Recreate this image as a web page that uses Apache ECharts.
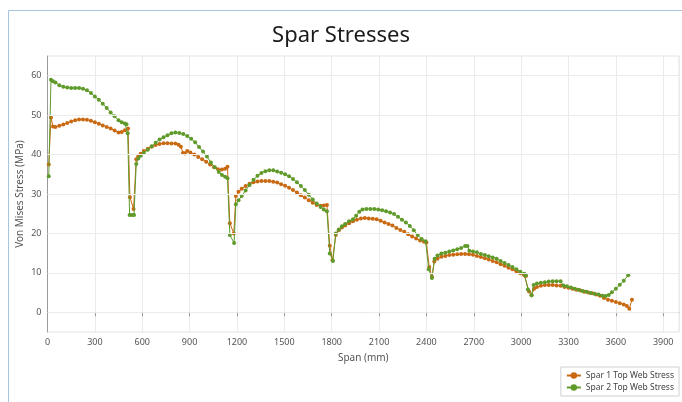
<!DOCTYPE html>
<html>
<head>
<meta charset="utf-8">
<script src="https://cdn.jsdelivr.net/npm/echarts@6/dist/echarts.min.js"></script>
<style>html,body{margin:0;padding:0;background:#fff}#chart{width:682px;height:402px}</style>
</head>
<body>
<div id="chart"></div>
<script>
const chartTitle = 'Spar Stresses';
const seriesNames = ['Spar 1 Top Web Stress', 'Spar 2 Top Web Stress'];
const xTicks = [0, 300, 600, 900, 1200, 1500, 1800, 2100, 2400, 2700, 3000, 3300, 3600, 3900];
const yTicks = [0, 10, 20, 30, 40, 50, 60];

const spar1Span = [8,22,35,50,75,100,125,150,175,200,225,250,275,300,325,350,375,400,425,450,470,490,510,
  522,545,562,575,590,610,635,660,685,710,735,760,785,810,830,845,858,870,885,905,930,955,980,1005,1030,1055,1080,1105,1125,1140,
  1155,1180,1193,1210,1230,1255,1280,1305,1330,1355,1380,1405,1430,1455,1480,1505,1530,1555,1580,1605,1630,1655,1680,1705,1730,1750,1770,
  1788,1805,1826,1845,1865,1885,1910,1935,1960,1985,2010,2035,2060,2085,2110,2135,2160,2185,2210,2235,2260,2285,2310,2335,2360,2385,2400,
  2418,2435,2450,2470,2495,2520,2545,2570,2595,2620,2645,2670,2695,2720,2745,2770,2795,2820,2845,2870,2895,2920,2945,2970,2995,3020,3030,
  3050,3066,3082,3100,3125,3150,3175,3200,3225,3250,3275,3300,3325,3350,3375,3400,3425,3450,3475,3500,3525,3550,3575,3600,3625,3650,3670,3685,3702];
const spar1Stress = [37.5,49.4,47.1,47.0,47.3,47.6,48.0,48.4,48.7,48.9,48.9,48.8,48.6,48.2,47.8,47.4,47.0,46.6,46.1,45.6,45.7,46.2,46.6,
  29.2,26.2,38.8,39.6,40.2,40.9,41.5,42.0,42.4,42.7,42.9,42.9,42.8,42.8,42.5,42.0,40.4,40.3,40.9,40.5,40.0,39.4,38.8,38.2,37.5,36.8,36.3,36.2,36.4,36.9,
  22.6,20.0,29.5,30.6,31.3,32.0,32.6,33.0,33.2,33.3,33.3,33.3,33.1,32.9,32.5,32.1,31.6,31.0,30.4,29.7,29.1,28.4,27.8,27.2,27.0,27.1,27.2,
  16.9,13.2,19.6,20.8,21.5,22.0,22.6,23.1,23.5,23.8,23.9,23.8,23.7,23.6,23.2,22.8,22.4,22.0,21.4,20.9,20.4,19.8,19.2,18.7,18.2,17.9,17.7,
  11.5,9.0,12.9,13.6,14.1,14.3,14.5,14.6,14.7,14.8,14.8,14.7,14.6,14.3,14.0,13.7,13.4,13.0,12.7,12.2,11.8,11.3,10.9,10.4,9.9,9.4,9.2,
  5.3,4.3,6.0,6.4,6.7,6.9,6.9,6.9,6.8,6.7,6.4,6.2,6.0,5.7,5.5,5.2,5.0,4.8,4.5,4.2,3.6,3.2,2.9,2.6,2.3,2.0,1.6,0.9,3.2];

const spar2Span = [8,22,35,50,75,100,125,150,175,200,225,250,275,300,325,350,375,400,425,450,470,490,500,508,
  520,535,548,562,575,590,610,635,660,685,710,735,760,785,810,835,860,885,910,935,960,985,1010,1035,1060,1085,1105,1125,1140,
  1155,1182,1193,1210,1230,1255,1280,1305,1330,1355,1380,1405,1430,1455,1480,1505,1530,1555,1580,1605,1630,1655,1680,1705,1730,1750,1770,
  1788,1808,1826,1845,1865,1885,1910,1935,1955,1975,1995,2020,2045,2070,2095,2120,2145,2170,2195,2220,2245,2270,2295,2320,2345,2370,2395,
  2415,2435,2452,2470,2495,2520,2545,2570,2595,2620,2645,2660,2672,2695,2720,2745,2770,2795,2820,2845,2870,2895,2920,2945,2970,2995,3020,3030,
  3043,3066,3079,3100,3125,3150,3175,3200,3225,3250,3268,3290,3315,3340,3365,3390,3415,3440,3465,3490,3515,3535,3555,3575,3600,3625,3650,3678];
const spar2Stress = [34.5,59.0,58.6,58.3,57.6,57.2,57.0,56.9,56.9,56.9,56.7,56.3,55.6,54.7,53.9,52.9,51.8,50.7,49.7,48.7,48.2,47.9,47.7,45.4,
  24.7,24.7,24.7,37.6,39.0,39.7,40.4,41.2,42.1,43.0,43.8,44.4,44.9,45.4,45.6,45.5,45.2,44.7,44.0,43.1,41.9,40.8,39.5,38.0,36.8,35.6,34.8,34.4,34.0,
  19.6,17.6,27.4,28.4,29.5,30.9,32.3,33.6,34.6,35.3,35.8,36.0,36.0,35.7,35.4,35.0,34.5,33.8,33.0,32.0,31.0,29.8,28.6,27.6,26.7,26.1,25.6,
  14.9,13.0,20.0,21.0,21.8,22.4,23.1,23.6,24.5,25.5,26.1,26.2,26.2,26.2,26.1,25.9,25.6,25.3,24.9,24.2,23.5,22.8,21.9,20.8,19.6,18.6,18.0,
  10.9,8.7,13.6,14.4,14.9,15.1,15.4,15.7,16.0,16.3,16.8,16.8,15.6,15.4,15.2,14.8,14.5,14.2,13.9,13.6,13.0,12.5,12.0,11.5,10.9,10.3,9.8,9.4,
  5.8,4.3,6.9,7.3,7.5,7.6,7.8,7.9,7.9,7.9,6.8,6.6,6.3,6.0,5.7,5.4,5.2,4.9,4.7,4.5,4.2,4.1,4.4,5.1,6.0,7.0,8.0,9.4];

const colors = ['#c96a12', '#5f9a2a'];
const font = "'Noto Sans', 'Open Sans', sans-serif";

const chart = echarts.init(document.getElementById('chart'));
chart.setOption({
  animation: false,
  textStyle: { fontFamily: font },
  graphic: [{
    type: 'rect', shape: { x: 8.5, y: 10.5, width: 720, height: 440 },
    style: { fill: 'none', stroke: '#a7c5de', lineWidth: 1 }, silent: true
  }],
  title: {
    text: chartTitle, left: 'center', top: 25, padding: 0,
    textStyle: { fontSize: 22, fontWeight: 'normal', color: '#1a1a1a', fontFamily: font }
  },
  legend: {
    orient: 'vertical', right: 3, bottom: 6,
    borderColor: '#d0d0d0', borderWidth: 1, padding: [4, 5, 4, 5], itemGap: 3,
    itemWidth: 14, itemHeight: 8,
    textStyle: { fontSize: 8.5, color: '#444' },
    data: seriesNames
  },
  grid: { left: 47.5, right: 3, top: 56, bottom: 70, show: true, borderColor: '#e3e3e3', borderWidth: 1 },
  xAxis: {
    type: 'value', min: 0, max: 4000, interval: 300,
    name: 'Span (mm)', nameLocation: 'middle', nameGap: 21, nameMoveOverlap: false,
    nameTextStyle: { fontSize: 10, color: '#555' },
    axisLine: { lineStyle: { color: '#9a9a9a' } },
    axisTick: { show: true, length: 4, lineStyle: { color: '#9a9a9a' } },
    axisLabel: { fontSize: 9, color: '#555', margin: 6, showMaxLabel: false,
      formatter: v => xTicks.indexOf(v) >= 0 ? String(v) : '' },
    splitLine: { show: true, lineStyle: { color: '#ebebeb' } }
  },
  yAxis: {
    type: 'value', min: -5, max: 65, interval: 5,
    name: 'Von Mises Stress (MPa)', nameLocation: 'middle', nameGap: 22, nameMoveOverlap: false,
    nameTextStyle: { fontSize: 10, color: '#555' },
    axisLine: { show: true, lineStyle: { color: '#9a9a9a' } },
    axisTick: { show: false },
    axisLabel: { fontSize: 9, color: '#555', margin: 6,
      formatter: v => yTicks.indexOf(v) >= 0 ? String(v) : '' },
    splitLine: { show: false }
  },
  series: [
    {
      name: seriesNames[0], type: 'line',
      data: spar1Span.map((x, i) => [x, spar1Stress[i]]),
      symbol: 'circle', symbolSize: 4, showSymbol: true,
      lineStyle: { width: 1, color: colors[0] }, itemStyle: { color: colors[0] },
      markLine: {
        silent: true, symbol: 'none', label: { show: false }, animation: false,
        lineStyle: { color: '#ebebeb', width: 1, type: 'solid' },
        data: yTicks.map(v => ({ yAxis: v }))
      },
      z: 2
    },
    {
      name: seriesNames[1], type: 'line',
      data: spar2Span.map((x, i) => [x, spar2Stress[i]]),
      symbol: 'circle', symbolSize: 4, showSymbol: true,
      lineStyle: { width: 1, color: colors[1] }, itemStyle: { color: colors[1] },
      z: 3
    }
  ]
});
</script>
</body>
</html>
